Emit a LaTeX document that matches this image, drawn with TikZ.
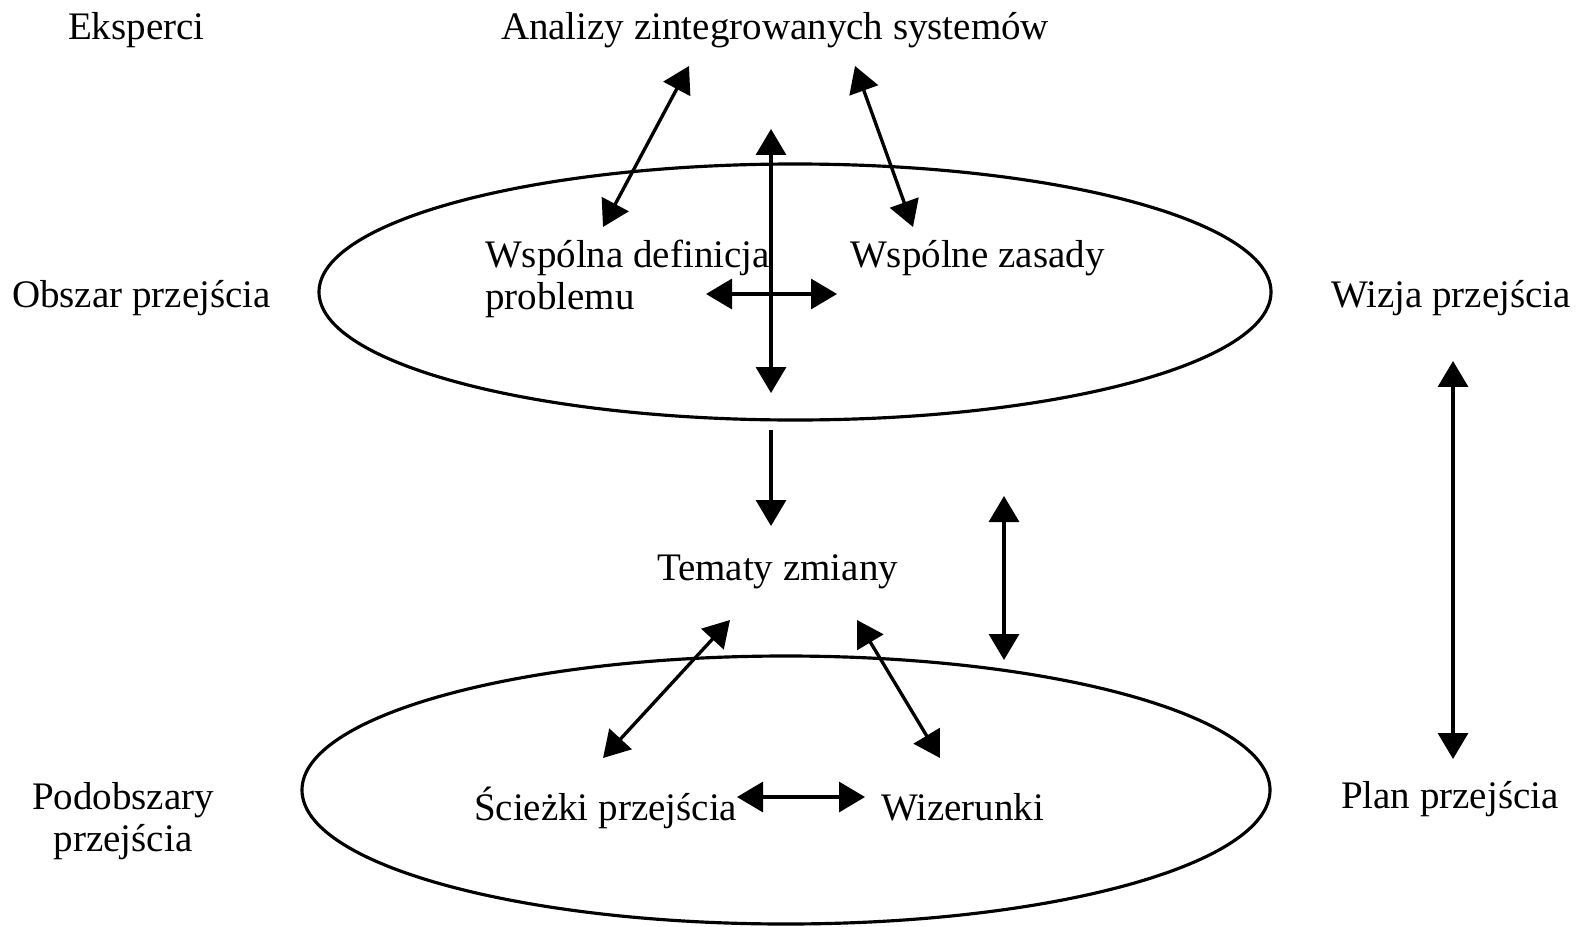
\documentclass[tikz,border=0pt]{standalone}
\usepackage{fontspec}
\setmainfont{Liberation Serif}
\usetikzlibrary{arrows.meta,shapes.geometric}
\begin{document}
\begin{tikzpicture}[x=0.02cm,y=-0.02cm,
  lbl/.style={inner sep=0pt,outer sep=0pt,font=\fontsize{22.2pt}{26pt}\selectfont},
  lblw/.style={lbl,anchor=base west},
  oval/.style={ellipse,draw,line width=1.8pt,inner sep=0pt},
  con/.style={line width=1.9pt,{Triangle[length=0.52cm,width=0.6cm]}-{Triangle[length=0.52cm,width=0.6cm]}},
  con1/.style={line width=1.9pt,-{Triangle[length=0.52cm,width=0.6cm]}}]
\useasboundingbox (0,0) rectangle (1581,926);
% ellipses
\node[oval,minimum width=952*0.02cm,minimum height=256*0.02cm] (e1) at (795,292) {};
\node[oval,minimum width=968*0.02cm,minimum height=268*0.02cm] (e2) at (786,790) {};
% labels
\node[lblw] (eks) at (68,40) {Eksperci};
\node[lblw] (ana) at (501,40) {Analizy zintegrowanych systemów};
\node[lblw] (obs) at (12,307) {Obszar przejścia};
\node[lblw] (wiz) at (1331,307) {Wizja przejścia};
\node[lblw] (wdef) at (485,267) {Wspólna definicja};
\node[lblw] (prob) at (485,309) {problemu};
\node[lblw] (wzas) at (850,267) {Wspólne zasady};
\node[lblw] (tem) at (657,580) {Tematy zmiany};
\node[lblw] (sci) at (474,820) {Ścieżki przejścia};
\node[lblw] (wzr) at (881,820) {Wizerunki};
\node[lblw] (plan) at (1341,808) {Plan przejścia};
\node[lbl,anchor=base] (pod1) at (123,809) {Podobszary};
\node[lbl,anchor=base] (pod2) at (123,851) {przejścia};
% connector end points
\coordinate (a1s) at (689,66);  \coordinate (a1e) at (603,227);
\coordinate (a2s) at (855,66);  \coordinate (a2e) at (913,227);
\coordinate (a3s) at (771,129); \coordinate (a3e) at (771,393);
\coordinate (a4s) at (706,294); \coordinate (a4e) at (837,294);
\coordinate (a5s) at (771,430); \coordinate (a5e) at (771,526);
\coordinate (a6s) at (1004,496); \coordinate (a6e) at (1004,660);
\coordinate (a7s) at (730,620); \coordinate (a7e) at (603,758);
\coordinate (a8s) at (857,620); \coordinate (a8e) at (940,758);
\coordinate (a9s) at (737,797); \coordinate (a9e) at (865,797);
\coordinate (a10s) at (1453,361); \coordinate (a10e) at (1453,759);
% connectors
\draw[con] (a1s) -- (a1e);
\draw[con] (a2s) -- (a2e);
\draw[con] (a3s) -- (a3e);
\draw[con] (a4s) -- (a4e);
\draw[con1] (a5s) -- (a5e);
\draw[con] (a6s) -- (a6e);
\draw[con] (a7s) -- (a7e);
\draw[con] (a8s) -- (a8e);
\draw[con] (a9s) -- (a9e);
\draw[con] (a10s) -- (a10e);
\end{tikzpicture}
\end{document}
